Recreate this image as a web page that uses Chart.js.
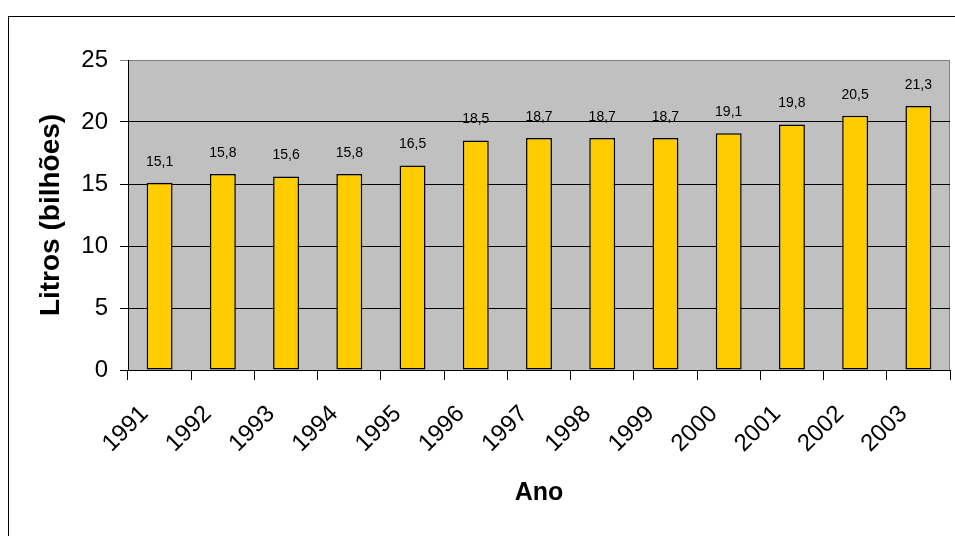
<!DOCTYPE html>
<html>
<head>
<meta charset="utf-8">
<script src="https://cdn.jsdelivr.net/npm/chart.js@4.4.0/dist/chart.umd.min.js"></script>
<style>
  body { margin: 0; background: #fff; }
  #frame { position: absolute; left: 8px; top: 16px; width: 960px; height: 540px; border: 1px solid #000; }
  #myChart { position: absolute; left: 0; top: 0; }
</style>
</head>
<body>
<div id="frame"></div>
<canvas id="myChart" width="955" height="536"></canvas>
<script>
const anos = ['1991','1992','1993','1994','1995','1996','1997','1998','1999','2000','2001','2002','2003'];
const litros = [15.1, 15.8, 15.6, 15.8, 16.5, 18.5, 18.7, 18.7, 18.7, 19.1, 19.8, 20.5, 21.3];
const yTicks = [0, 5, 10, 15, 20, 25];

const fonte = '"Liberation Sans", Arial, sans-serif';

// fundo cinza da area do grafico + borda cinza
const fundo = {
  id: 'fundo',
  beforeDraw(chart) {
    const { ctx, chartArea: a } = chart;
    ctx.save();
    ctx.fillStyle = '#c0c0c0';
    ctx.fillRect(a.left, a.top, a.right - a.left, a.bottom - a.top);
    ctx.strokeStyle = '#808080';
    ctx.lineWidth = 1;
    ctx.strokeRect(a.left + 0.5, a.top + 0.5, a.right - a.left - 1, a.bottom - a.top);
    ctx.restore();
  }
};

// rotulos dos valores acima das barras
const rotulos = {
  id: 'rotulos',
  afterDatasetsDraw(chart) {
    const { ctx } = chart;
    const meta = chart.getDatasetMeta(0);
    ctx.save();
    ctx.font = '14px ' + fonte;
    ctx.fillStyle = '#000';
    ctx.textAlign = 'center';
    ctx.textBaseline = 'bottom';
    meta.data.forEach(function(bar, i) {
      ctx.fillText(litros[i].toFixed(1).replace('.', ','), bar.x, bar.y - 14);
    });
    ctx.restore();
  }
};

new Chart(document.getElementById('myChart'), {
  type: 'bar',
  data: {
    labels: anos,
    datasets: [{
      data: litros,
      backgroundColor: '#ffcc00',
      borderColor: '#000',
      borderWidth: 1.5,
      borderSkipped: false,
      barPercentage: 0.41,
      categoryPercentage: 1
    }]
  },
  options: {
    responsive: false,
    animation: false,
    layout: { padding: { top: 60, right: 5, left: 0, bottom: 0 } },
    plugins: { legend: { display: false }, tooltip: { enabled: false } },
    scales: {
      x: {
        afterFit(scale) { scale.height = 166; scale.paddingLeft = 0; scale.paddingRight = 0; },
        grid: { drawOnChartArea: false, drawTicks: true, tickLength: 10, color: '#000' },
        border: { display: true, color: '#000', width: 1 },
        ticks: { minRotation: 45, maxRotation: 45, padding: 20, labelOffset: -15, color: '#000', font: { family: fonte, size: 24 } },
        title: { display: true, text: 'Ano', color: '#000', padding: { top: 0, bottom: 28 }, font: { family: fonte, size: 25, weight: 'bold' } }
      },
      y: {
        min: 0,
        max: 25,
        afterFit(scale) { scale.width = 128; },
        afterBuildTicks(scale) { scale.ticks = yTicks.map(v => ({ value: v })); },
        grid: {
          color: ctx => (ctx.tick && ctx.tick.value === 25 ? '#808080' : '#000'),
          lineWidth: 1,
          tickLength: 8
        },
        border: { display: true, color: '#000', width: 1 },
        ticks: { padding: 12, color: '#000', font: { family: fonte, size: 24 } },
        title: { display: true, text: 'Litros (bilhões)', color: '#000', padding: { top: 34, bottom: 0 }, font: { family: fonte, size: 28, weight: 'bold' } }
      }
    }
  },
  plugins: [fundo, rotulos]
});
</script>
</body>
</html>
